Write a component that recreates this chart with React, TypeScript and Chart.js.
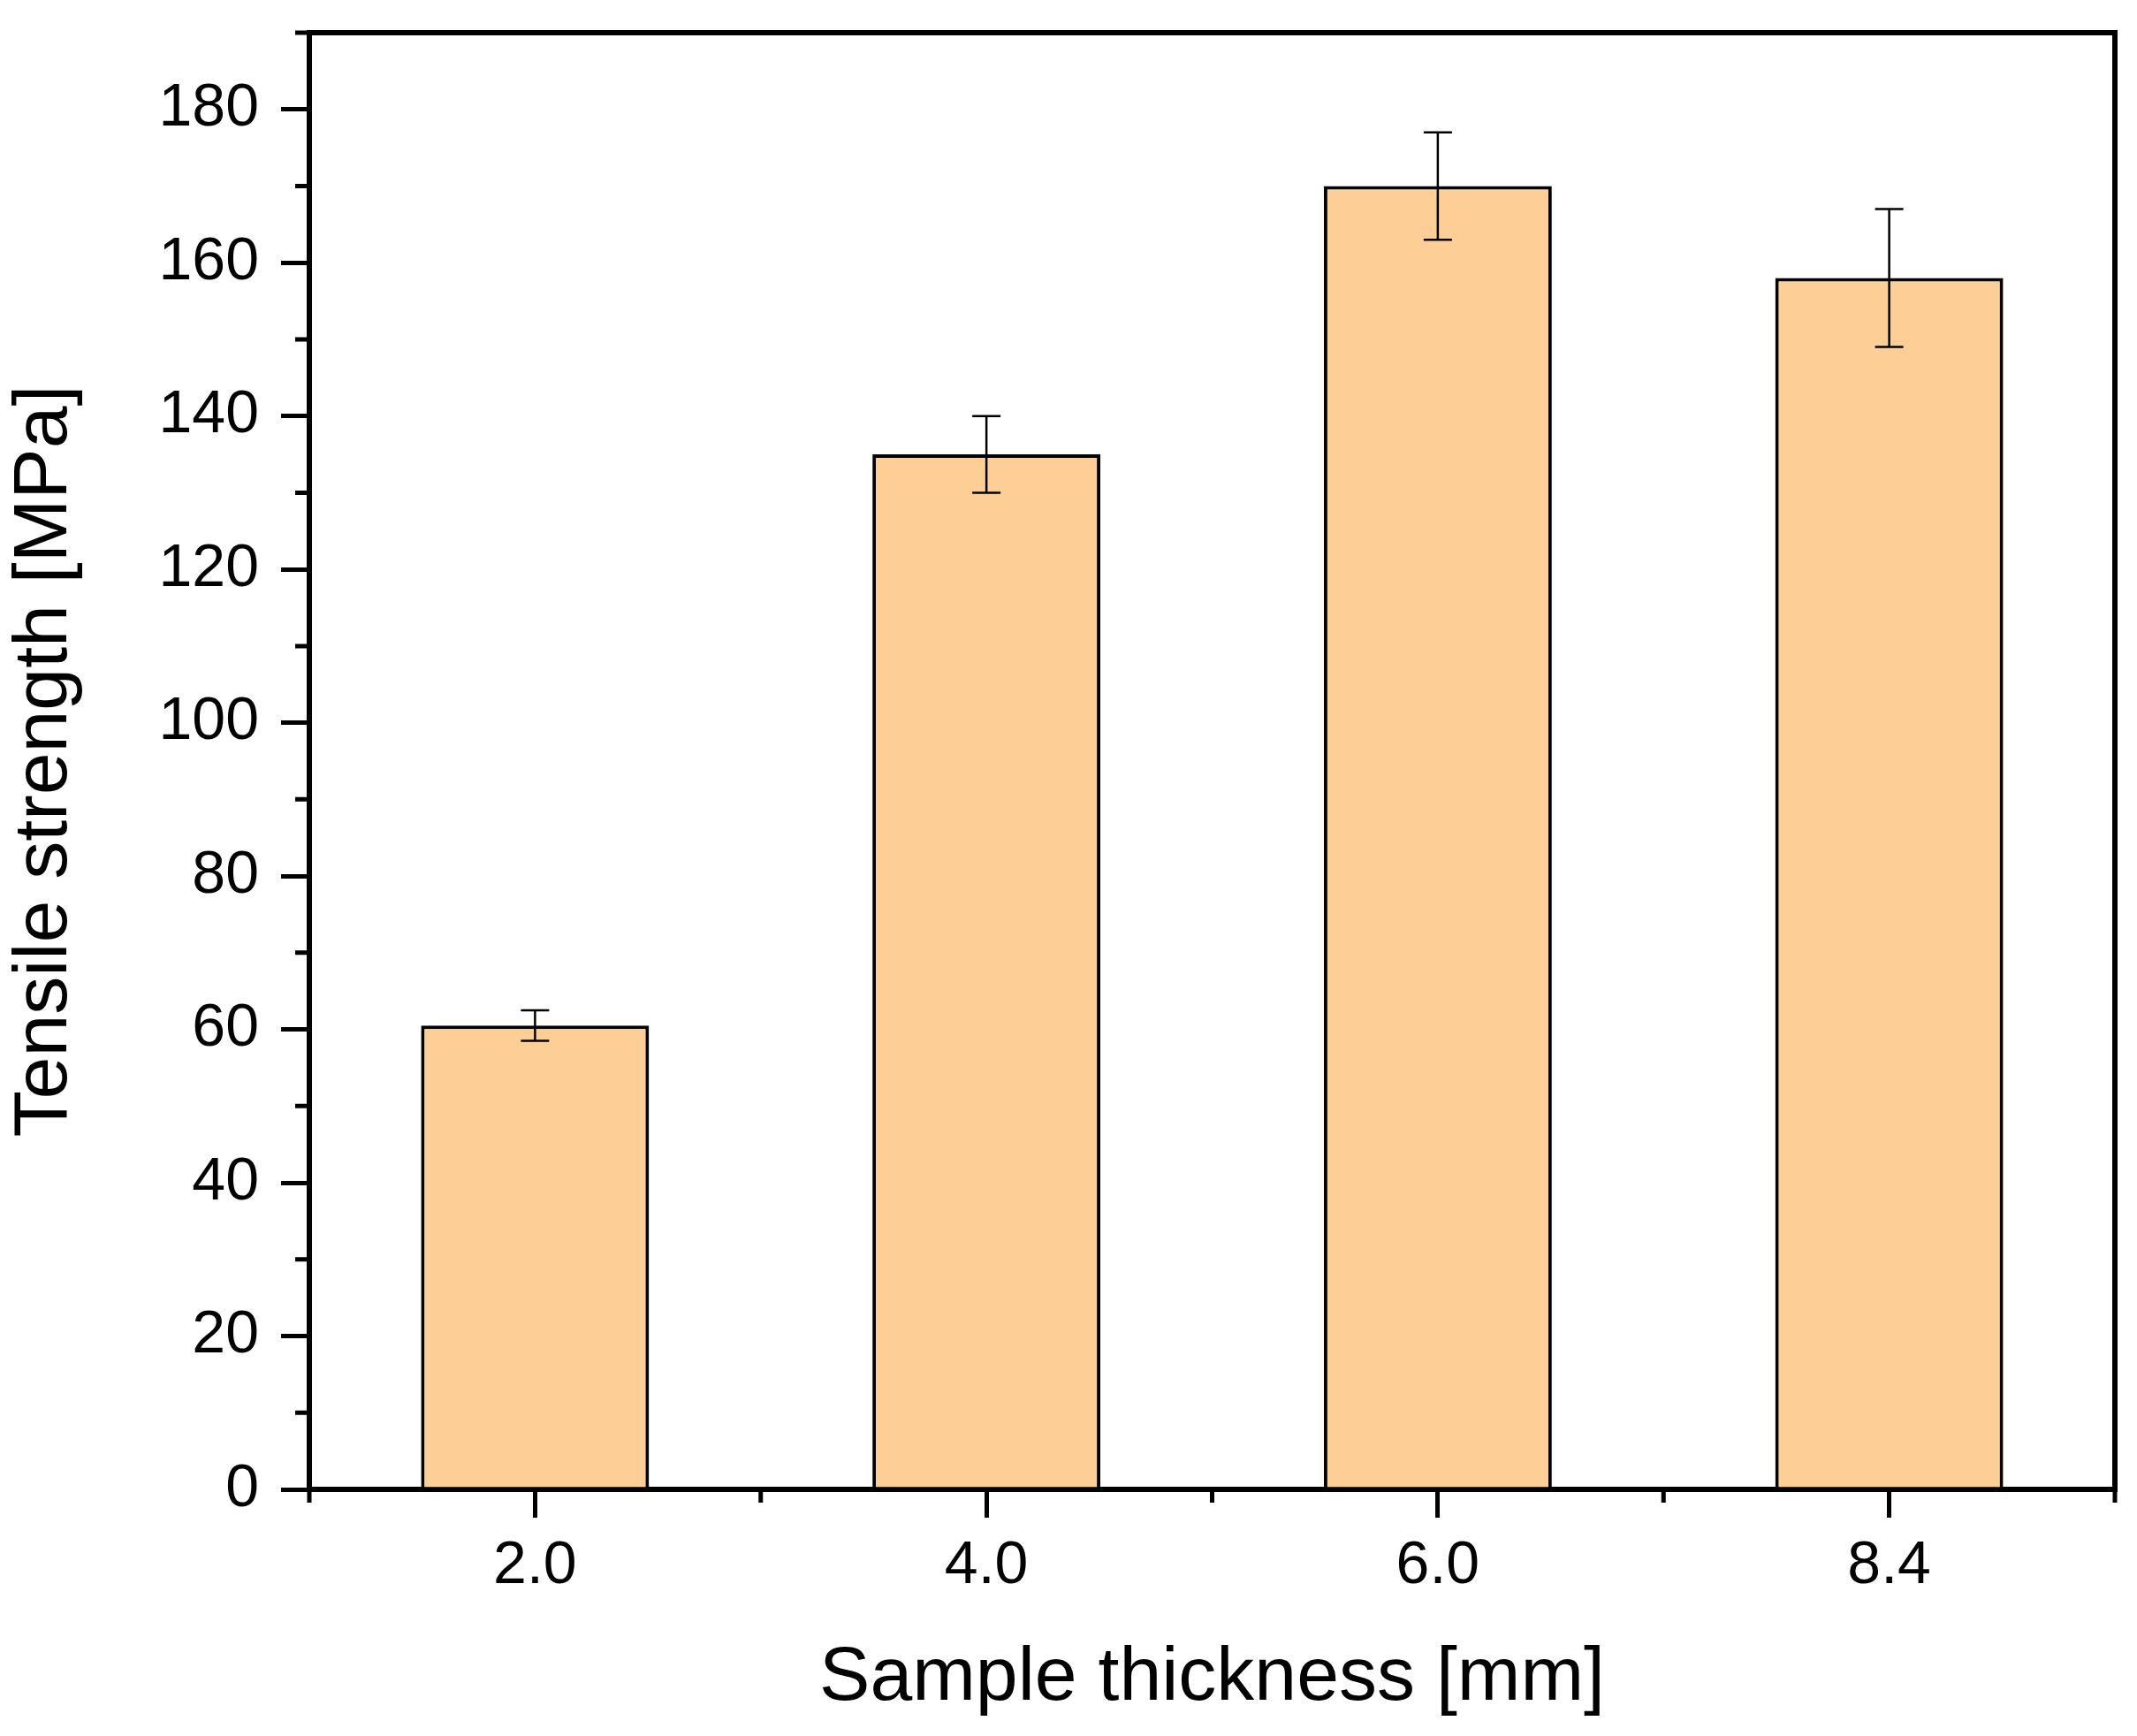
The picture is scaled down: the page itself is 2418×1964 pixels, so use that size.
import React, { useRef, useEffect } from 'react';
import { Chart, registerables } from 'chart.js';

Chart.register(...registerables);

// Datos
const thickness = ['2.0', '4.0', '6.0', '8.4'];
const strength = [60.5, 135, 170, 158];
const strengthErr = [2, 5, 7, 9];

const FONT = "'Liberation Sans', Arial, sans-serif";

// marcas menores, marco superior/derecho y barras de error
const extrasPlugin = {
  id: 'extras',
  afterDatasetsDraw(chart: any) {
    const { ctx, scales: { x, y } } = chart;
    ctx.save();
    ctx.strokeStyle = '#000';
    ctx.lineWidth = 2.5;
    strength.forEach((v, i) => {
      const px = x.getPixelForValue(i);
      const hi = y.getPixelForValue(v + strengthErr[i]);
      const lo = y.getPixelForValue(v - strengthErr[i]);
      ctx.beginPath();
      ctx.moveTo(px, hi);
      ctx.lineTo(px, lo);
      ctx.moveTo(px - 16, hi);
      ctx.lineTo(px + 16, hi);
      ctx.moveTo(px - 16, lo);
      ctx.lineTo(px + 16, lo);
      ctx.stroke();
    });
    ctx.restore();
  },
  afterDraw(chart: any) {
    const { ctx, chartArea: { left, right, top, bottom }, scales: { x, y } } = chart;
    ctx.save();
    ctx.strokeStyle = '#000';

    // marco
    ctx.lineWidth = 6;
    ctx.lineJoin = 'miter';
    ctx.beginPath();
    ctx.moveTo(left, top);
    ctx.lineTo(right, top);
    ctx.lineTo(right, bottom);
    ctx.stroke();

    // marcas menores
    ctx.lineWidth = 5;
    ctx.beginPath();
    for (let v = 10; v <= y.max; v += 20) {
      const py = y.getPixelForValue(v);
      ctx.moveTo(left - 16, py);
      ctx.lineTo(left, py);
    }
    for (let k = -0.5; k <= thickness.length - 0.5; k += 1) {
      const px = x.getPixelForValue(k);
      ctx.moveTo(px, bottom);
      ctx.lineTo(px, bottom + 15);
    }
    ctx.stroke();
    ctx.restore();
  },
};

const App: React.FC = () => {
  const chartRef = useRef<HTMLCanvasElement | null>(null);

  useEffect(() => {
    document.body.style.margin = '0';
    document.body.style.overflow = 'hidden';
    if (!chartRef.current) return;
    const ctx = chartRef.current.getContext('2d');
    if (!ctx) return;

    const chart = new Chart(ctx, {
      type: 'bar',
      data: {
        labels: thickness,
        datasets: [
          {
            label: 'Tensile strength',
            data: strength,
            backgroundColor: '#FDCE96',
            borderColor: '#000',
            borderWidth: 4,
            barPercentage: 0.505,
            categoryPercentage: 1,
          },
        ],
      },
      options: {
        responsive: false,
        animation: false,
        devicePixelRatio: 1,
        layout: { padding: { top: 37, right: 25, bottom: 0, left: 0 } },
        plugins: {
          legend: { display: false },
          tooltip: { enabled: false },
        },
        scales: {
          x: {
            offset: true,
            grid: {
              drawOnChartArea: false,
              offset: false,
              tickLength: 32,
              tickWidth: 5,
              tickColor: '#000',
              lineWidth: 5,
            },
            border: { display: true, width: 6, color: '#000' },
            ticks: {
              color: '#000',
              font: { family: FONT, size: 68, lineHeight: 1 },
              padding: 21,
              maxRotation: 0,
              autoSkip: false,
            },
            title: {
              display: true,
              text: 'Sample thickness [mm]',
              color: '#000',
              font: { family: FONT, size: 86, lineHeight: 1 },
              padding: { top: 0, bottom: 22 },
            },
            afterFit: (s: any) => {
              s.height = 279;
              s.paddingLeft = 0;
              s.paddingRight = 0;
            },
          },
          y: {
            min: 0,
            max: 190,
            grid: {
              drawOnChartArea: false,
              tickLength: 32,
              tickWidth: 5,
              tickColor: '#000',
              lineWidth: 5,
            },
            border: { display: true, width: 6, color: '#000' },
            ticks: {
              stepSize: 20,
              includeBounds: false,
              color: '#000',
              font: { family: FONT, size: 68, lineHeight: 1 },
              padding: 25,
            },
            title: {
              display: true,
              text: 'Tensile strength [MPa]',
              color: '#000',
              font: { family: FONT, size: 86, lineHeight: 1 },
              padding: { top: 8, bottom: 0 },
            },
            afterFit: (s: any) => {
              s.width = 350;
              s.paddingTop = 0;
              s.paddingBottom = 0;
            },
          },
        },
      } as any,
      plugins: [extrasPlugin],
    });

    return () => {
      chart.destroy();
    };
  }, []);

  return (
    <div style={{ width: 2418, height: 1964, background: '#fff' }}>
      <canvas ref={chartRef} width={2418} height={1964} style={{ display: 'block' }} />
    </div>
  );
};

export default App;
